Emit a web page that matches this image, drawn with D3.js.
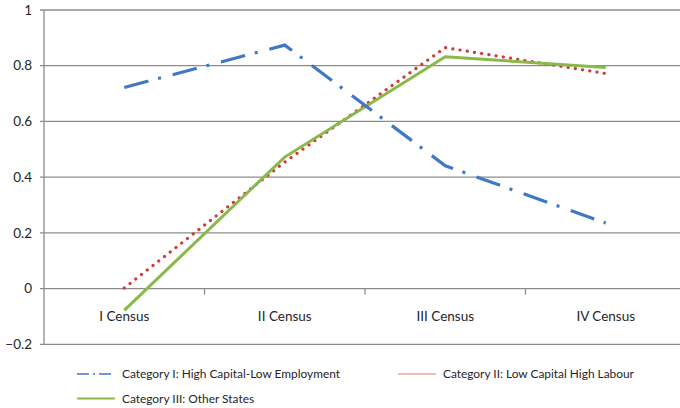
<!DOCTYPE html>
<html><head><meta charset="utf-8">
<script src="https://cdn.jsdelivr.net/npm/d3@7"></script>
<style>body{margin:0;background:#fff}svg{display:block}text{font-family:Lato,"Open Sans",sans-serif;fill:#262626}</style>
</head><body><svg id="c" width="680" height="408"></svg>
<script>
const categories = ["I Census", "II Census", "III Census", "IV Census"];
const catI = [0.722, 0.874, 0.441, 0.235];
const catII = [0.002, 0.454, 0.865, 0.772];
const catIII = [-0.078, 0.472, 0.832, 0.794];
const yTicks = [-0.2, 0, 0.2, 0.4, 0.6, 0.8, 1];
const seriesNames = ["Category I: High Capital-Low Employment", "Category II: Low Capital High Labour", "Category III: Other States"];

const svg = d3.select("#c");
const x = d3.scaleBand().domain(categories).range([44, 686]);
const y = d3.scaleLinear().domain([-0.2, 1]).range([344.3, 10]);

svg.append("g").selectAll("line").data(yTicks).join("line")
  .attr("x1", 40).attr("x2", 686).attr("y1", d => y(d)).attr("y2", d => y(d))
  .attr("stroke", "#8c8c8c").attr("stroke-width", 1.3);
svg.append("line").attr("x1", 44).attr("x2", 44).attr("y1", y(1)).attr("y2", y(-0.2))
  .attr("stroke", "#8c8c8c").attr("stroke-width", 1.3);
svg.append("g").selectAll("text").data(yTicks).join("text")
  .attr("x", 32).attr("y", d => y(d)).attr("dy", "0.35em").attr("text-anchor", "end")
  .attr("font-size", 13.5).text(d => d3.format("")(d));
const edges = categories.map(c => x(c)).slice(1);
svg.append("g").selectAll("line").data(edges).join("line")
  .attr("x1", d => d).attr("x2", d => d).attr("y1", y(0)).attr("y2", y(0) + 6)
  .attr("stroke", "#8c8c8c").attr("stroke-width", 1.3);
svg.append("g").selectAll("text").data(categories).join("text")
  .attr("x", d => x(d) + x.bandwidth() / 2).attr("y", 316).attr("dy", "0.35em")
  .attr("text-anchor", "middle").attr("font-size", 13.5).text(d => d);

const line = d3.line().x((d, i) => x(categories[i]) + x.bandwidth() / 2).y(d => y(d));
svg.append("path").datum(catII).attr("d", line).attr("fill", "none")
  .attr("stroke", "#cf3b3b").attr("stroke-width", 3.2).attr("stroke-linecap", "round")
  .attr("stroke-dasharray", "0.1,7.2");
svg.append("path").datum(catIII).attr("d", line).attr("fill", "none")
  .attr("stroke", "#8ab84a").attr("stroke-width", 3);
svg.append("path").datum(catI).attr("d", line).attr("fill", "none")
  .attr("stroke", "#3f78c4").attr("stroke-width", 3.2)
  .attr("stroke-dasharray", "25,10,3,12");

const leg = [
  {x: 77, y: 374, name: seriesNames[0], color: "#3f78c4", dash: "12,4,2,4", w: 1.3},
  {x: 398, y: 374, name: seriesNames[1], color: "#e07a7a", dash: null, w: 1},
  {x: 77, y: 398.5, name: seriesNames[2], color: "#8ab84a", dash: null, w: 2}
];
const lg = svg.append("g").selectAll("g").data(leg).join("g");
lg.append("line").attr("x1", d => d.x).attr("x2", d => d.x + 38).attr("y1", d => d.y).attr("y2", d => d.y)
  .attr("stroke", d => d.color).attr("stroke-width", d => d.w).attr("stroke-dasharray", d => d.dash);
lg.append("text").attr("x", d => d.x + 45).attr("y", d => d.y).attr("dy", "0.35em")
  .attr("font-size", 11.9).text(d => d.name);
</script></body></html>
